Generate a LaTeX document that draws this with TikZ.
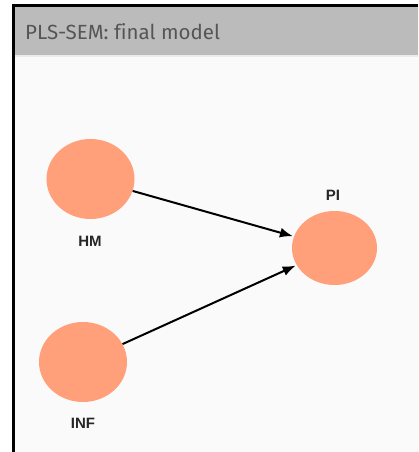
\documentclass[tikz,border=0pt]{standalone}
\usepackage{fontspec}
\setmainfont{Liberation Sans}
\newfontfamily\headfont[Ligatures=NoCommon]{Fira Sans}
\usetikzlibrary{shapes.geometric,arrows.meta}
\definecolor{salmon}{HTML}{FFA07A}
\definecolor{headgray}{HTML}{BBBBBB}
\definecolor{bodygray}{HTML}{FAFAFA}
\definecolor{textgray}{HTML}{555555}
\tikzset{
  latent/.style={ellipse, fill=salmon, inner sep=0pt, minimum width=88pt, minimum height=80pt},
  lvname/.style={font=\bfseries\fontsize{15}{17}\selectfont, text=black!85},
  path/.style={line width=2pt, -{Latex[length=13pt,width=10pt]}, shorten >=1pt}
}
\begin{document}
\begin{tikzpicture}[x=1pt,y=-1pt]
\useasboundingbox (0,0) rectangle (418,452);
% panel
\fill[bodygray] (13,6) rectangle (418,452);
\fill[headgray] (13,6) rectangle (418,55);
\draw[line width=1.5pt, black!8] (15,56) -- (418,56);
\draw[line width=3pt] (13.5,452) -- (13.5,5.5) -- (418,5.5);
\node[anchor=west, inner sep=0pt, text=textgray, font=\headfont\fontsize{20.5}{24}\selectfont] (title) at (25,32) {PLS-SEM: final model};
% constructs
\node[latent] (hm) at (90.5,179) {};
\node[latent] (inf) at (83,362) {};
\node[latent, minimum width=85pt, minimum height=74pt] (pi) at (334.5,248) {};
\node[lvname] (hmname) at (90,241) {HM};
\node[lvname] (infname) at (83,423) {INF};
\node[lvname] (piname) at (333,195) {PI};
% paths
\draw[path] (hm) -- (pi);
\draw[path] (inf) -- (pi);
\end{tikzpicture}
\end{document}
